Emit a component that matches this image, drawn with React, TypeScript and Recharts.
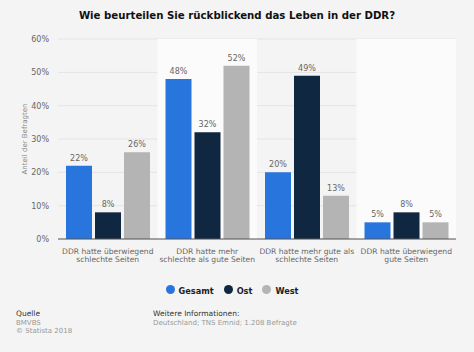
import {
    Bar,
    BarChart,
    CartesianGrid,
    LabelList,
    Legend,
    ReferenceArea,
    XAxis,
    YAxis,
} from "recharts";

const categories = [
    "DDR hatte überwiegend\nschlechte Seiten",
    "DDR hatte mehr\nschlechte als gute Seiten",
    "DDR hatte mehr gute als\nschlechte Seiten",
    "DDR hatte überwiegend\ngute Seiten",
];
const gesamt = [22, 48, 20, 5];
const ost = [8, 32, 49, 8];
const west = [26, 52, 13, 5];
const yTicks = [0, 10, 20, 30, 40, 50, 60];

const data = categories.map((name, i) => ({
    name,
    Gesamt: gesamt[i],
    Ost: ost[i],
    West: west[i],
}));

const FONT = "'DejaVu Sans', sans-serif";

function CategoryTick(props: any) {
    const { x, y, payload } = props;
    const lines = String(payload.value).split("\n");
    return (
        <text
            x={x}
            y={y}
            textAnchor="middle"
            fill="#666"
            fontSize={7.6}
            fontFamily={FONT}
        >
            {lines.map((line, i) => (
                <tspan key={i} x={x} dy={i === 0 ? 7 : 8}>
                    {line}
                </tspan>
            ))}
        </text>
    );
}

function App() {
    return (
        <div
            style={{
                position: "fixed",
                left: 0,
                top: 0,
                width: 474,
                height: 352,
                background: "#f4f4f4",
                fontFamily: FONT,
            }}
        >
            <div
                style={{
                    position: "absolute",
                    top: 10,
                    width: 474,
                    textAlign: "center",
                    fontWeight: "bold",
                    fontSize: 10.2,
                    color: "#111",
                }}
            >
                Wie beurteilen Sie rückblickend das Leben in der DDR?
            </div>
            <BarChart
                width={474}
                height={352}
                data={data}
                margin={{ top: 39, right: 18, left: 18, bottom: 83 }}
                barCategoryGap={8}
                barGap={3}
            >
                {categories
                    .filter((_, i) => i % 2 === 1)
                    .map((c) => (
                        <ReferenceArea
                            key={c}
                            x1={c}
                            x2={c}
                            fill="#fbfbfb"
                            fillOpacity={1}
                            stroke="none"
                        />
                    ))}
                <CartesianGrid vertical={false} stroke="#e4e4e4" />
                <XAxis
                    dataKey="name"
                    height={30}
                    tick={<CategoryTick />}
                    tickLine={false}
                    axisLine={{ stroke: "#555" }}
                    interval={0}
                />
                <YAxis
                    domain={[0, 60]}
                    ticks={yTicks}
                    width={40}
                    tickFormatter={(v) => `${v}%`}
                    tick={{ fontSize: 8, fill: "#666", fontFamily: FONT }}
                    tickLine={false}
                    axisLine={false}
                    tickMargin={3}
                    label={{
                        value: "Anteil der Befragten",
                        angle: -90,
                        position: "insideLeft",
                        offset: 7,
                        style: {
                            fontSize: 7,
                            fill: "#888",
                            fontFamily: FONT,
                            textAnchor: "middle",
                        },
                    }}
                />
                <Legend
                    verticalAlign="middle"
                    iconType="circle"
                    iconSize={9}
                    wrapperStyle={{ top: 279, left: 0, width: 474 }}
                    formatter={(v) => (
                        <span
                            style={{
                                color: "#222",
                                fontWeight: "bold",
                                fontSize: 8.2,
                                fontFamily: FONT,
                            }}
                        >
                            {v}
                        </span>
                    )}
                />
                <Bar dataKey="Gesamt" fill="#2876dd" isAnimationActive={false}>
                    <LabelList
                        dataKey="Gesamt"
                        position="top"
                        formatter={(v: any) => `${v}%`}
                        style={{ fontSize: 8, fill: "#666", fontFamily: FONT }}
                    />
                </Bar>
                <Bar dataKey="Ost" fill="#0f2741" isAnimationActive={false}>
                    <LabelList
                        dataKey="Ost"
                        position="top"
                        formatter={(v: any) => `${v}%`}
                        style={{ fontSize: 8, fill: "#666", fontFamily: FONT }}
                    />
                </Bar>
                <Bar dataKey="West" fill="#b4b4b4" isAnimationActive={false}>
                    <LabelList
                        dataKey="West"
                        position="top"
                        formatter={(v: any) => `${v}%`}
                        style={{ fontSize: 8, fill: "#666", fontFamily: FONT }}
                    />
                </Bar>
            </BarChart>
            <div
                style={{
                    position: "absolute",
                    left: 16,
                    top: 310,
                    fontSize: 7,
                    lineHeight: "8.5px",
                    color: "#999",
                }}
            >
                <div style={{ color: "#333", fontSize: 7.5 }}>Quelle</div>
                <div>BMVBS</div>
                <div>© Statista 2018</div>
            </div>
            <div
                style={{
                    position: "absolute",
                    left: 153,
                    top: 310,
                    fontSize: 7,
                    lineHeight: "8.5px",
                    color: "#999",
                }}
            >
                <div style={{ color: "#333", fontSize: 7.5 }}>
                    Weitere Informationen:
                </div>
                <div>Deutschland; TNS Emnid; 1.208 Befragte</div>
            </div>
        </div>
    );
}

export default App;
